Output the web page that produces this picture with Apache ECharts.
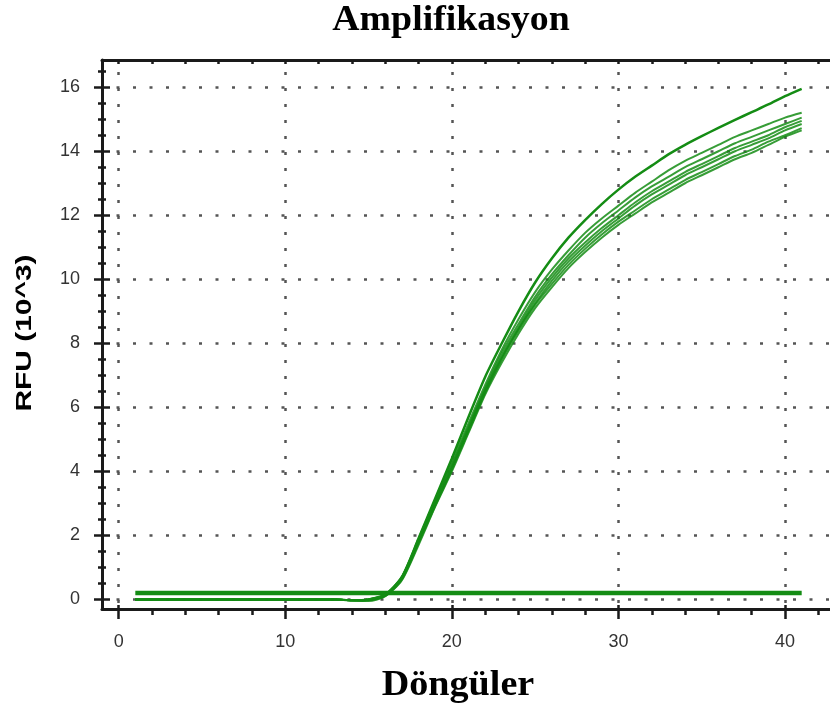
<!DOCTYPE html>
<html>
<head>
<meta charset="utf-8">
<script src="https://cdn.jsdelivr.net/npm/echarts@6/dist/echarts.min.js"></script>
<style>
  html, body { margin: 0; padding: 0; background: #fff; }
  #myChart { width: 830px; height: 712px; }
</style>
</head>
<body>
<div id="myChart"></div>
<script>
// cycles (x) and RFU values in 10^3 (y)
const cycles = [1, 2, 3, 4, 5, 6, 7, 8, 9, 10, 11, 12, 13, 14, 15, 16, 17, 18, 19, 20,
  21, 22, 23, 24, 25, 26, 27, 28, 29, 30, 31, 32, 33, 34, 35, 36, 37, 38, 39, 40, 41];

// negative samples, flat line
const negative = [0.2, 0.2, 0.2, 0.2, 0.2, 0.2, 0.2, 0.2, 0.2, 0.2, 0.2, 0.2, 0.2, 0.2, 0.2, 0.2, 0.2, 0.2, 0.2, 0.2,
  0.2, 0.2, 0.2, 0.2, 0.2, 0.2, 0.2, 0.2, 0.2, 0.2, 0.2, 0.2, 0.2, 0.2, 0.2, 0.2, 0.2, 0.2, 0.2, 0.2, 0.2];

// highest curve
const sampleTop = [0, 0, 0, 0, 0, 0, 0, 0, 0, 0, 0, 0, 0, -0.03,
  0.0, 0.15, 0.7, 1.9, 3.15, 4.4, 5.7, 6.95, 8.0, 9.0, 9.9, 10.65, 11.3, 11.85, 12.35, 12.8, 13.2,
  13.55, 13.9, 14.2, 14.47, 14.73, 14.98, 15.22, 15.46, 15.72, 15.95];

// bundle of curves
const sampleA = [0, 0, 0, 0, 0, 0, 0, 0, 0, 0, 0, 0, 0, -0.03,
  0.0, 0.15, 0.7, 1.9, 3.1, 4.3, 5.5, 6.7, 7.8, 8.75, 9.6, 10.3, 10.9, 11.45, 11.9, 12.3, 12.7,
  13.05, 13.4, 13.7, 13.95, 14.2, 14.45, 14.65, 14.85, 15.05, 15.2];
const sampleB = [0, 0, 0, 0, 0, 0, 0, 0, 0, 0, 0, 0, 0, -0.03,
  0.0, 0.15, 0.7, 1.85, 3.05, 4.2, 5.4, 6.6, 7.7, 8.6, 9.45, 10.15, 10.75, 11.3, 11.75, 12.15, 12.55,
  12.9, 13.2, 13.5, 13.75, 14.0, 14.25, 14.45, 14.65, 14.85, 15.05];
const sampleC = [0, 0, 0, 0, 0, 0, 0, 0, 0, 0, 0, 0, 0, -0.03,
  0.0, 0.12, 0.65, 1.8, 3.0, 4.15, 5.35, 6.55, 7.6, 8.5, 9.35, 10.05, 10.65, 11.15, 11.6, 12.0, 12.4,
  12.75, 13.05, 13.35, 13.6, 13.85, 14.1, 14.3, 14.5, 14.75, 14.95];
const sampleD = [0, 0, 0, 0, 0, 0, 0, 0, 0, 0, 0, 0, 0, -0.03,
  -0.02, 0.12, 0.65, 1.78, 2.95, 4.1, 5.3, 6.5, 7.55, 8.45, 9.25, 9.95, 10.55, 11.05, 11.5, 11.9, 12.3,
  12.65, 12.95, 13.25, 13.5, 13.75, 14.0, 14.2, 14.4, 14.65, 14.85];
const sampleE = [0, 0, 0, 0, 0, 0, 0, 0, 0, 0, 0, 0, 0, -0.03,
  -0.03, 0.1, 0.62, 1.75, 2.92, 4.05, 5.25, 6.45, 7.5, 8.4, 9.2, 9.85, 10.45, 10.95, 11.4, 11.8, 12.15,
  12.5, 12.8, 13.1, 13.35, 13.6, 13.85, 14.05, 14.3, 14.5, 14.72];
const sampleF = [0, 0, 0, 0, 0, 0, 0, 0, 0, 0, 0, 0, 0, -0.03,
  -0.05, 0.1, 0.6, 1.7, 2.9, 4.0, 5.2, 6.4, 7.4, 8.3, 9.1, 9.75, 10.35, 10.85, 11.3, 11.7, 12.05,
  12.4, 12.7, 13.0, 13.25, 13.5, 13.75, 13.95, 14.2, 14.45, 14.65];

// tick values
const xMajorTicks = [0, 10, 20, 30, 40];
const xMinorTicks = [2, 4, 6, 8, 12, 14, 16, 18, 22, 24, 26, 28, 32, 34, 36, 38, 42];
const yMajorTicks = [0, 2, 4, 6, 8, 10, 12, 14, 16];
const yMinorTicks = [0.5, 1, 1.5, 2.5, 3, 3.5, 4.5, 5, 5.5, 6.5, 7, 7.5, 8.5, 9, 9.5,
  10.5, 11, 11.5, 12.5, 13, 13.5, 14.5, 15, 15.5, 16.5];

const green = '#148c14';
const ink = '#1a1a1a';

function pairs(values) {
  return cycles.map(function (c, i) { return [c, values[i]]; });
}

// an extra axis used only to draw tick marks
function tickAxis(base, position, ticks, len, inside) {
  return Object.assign({}, base, {
    position: position,
    axisLine: { show: false, onZero: false },
    axisTick: { show: true, customValues: ticks, inside: inside, length: len, lineStyle: { color: ink, width: 2.5 } },
    axisLabel: { show: false },
    splitLine: { show: false }
  });
}

const xBase = { type: 'value', gridIndex: 0, min: -1, max: 43 };
const yBase = { type: 'value', gridIndex: 0, min: -0.3, max: 16.85 };

let myChart = echarts.init(document.getElementById('myChart'));

const curveStyle = { color: green, width: 2, opacity: 0.85 };
function curve(name, values, style) {
  return {
    name: name,
    type: 'line',
    data: pairs(values),
    showSymbol: false,
    smooth: 0.25,
    lineStyle: style || curveStyle,
    itemStyle: { color: green },
    silent: true,
    animation: false
  };
}

myChart.setOption({
  animation: false,
  grid: { left: 102, top: 60, width: 733, height: 549, containLabel: false, outerBoundsMode: 'none' },
  xAxis: [
    Object.assign({}, xBase, {
      position: 'bottom',
      axisLine: { show: true, onZero: false, lineStyle: { color: ink, width: 3 } },
      axisTick: { show: true, customValues: xMajorTicks, length: 10, lineStyle: { color: ink, width: 2.5 } },
      axisLabel: { customValues: xMajorTicks, margin: 24, fontSize: 18, color: '#333', fontFamily: 'Liberation Sans' },
      splitLine: { show: true, lineStyle: { color: '#555', width: 2.5, type: [3, 13], dashOffset: 4 } }
    }),
    tickAxis(xBase, 'bottom', xMinorTicks, 6, false),
    tickAxis(xBase, 'bottom', xMajorTicks, 4, true),
    Object.assign(tickAxis(xBase, 'top', xMinorTicks.concat(xMajorTicks), 4, true), {
      axisLine: { show: true, onZero: false, lineStyle: { color: ink, width: 3 } }
    })
  ],
  yAxis: [
    Object.assign({}, yBase, {
      position: 'left',
      axisLine: { show: true, onZero: false, lineStyle: { color: ink, width: 3 } },
      axisTick: { show: true, customValues: yMajorTicks, length: 8, lineStyle: { color: ink, width: 2.5 } },
      axisLabel: { customValues: yMajorTicks, margin: 22, fontSize: 18, color: '#333', fontFamily: 'Liberation Sans' },
      splitLine: { show: true, lineStyle: { color: '#555', width: 2.5, type: [3, 13.5], dashOffset: 2 } }
    }),
    tickAxis(yBase, 'left', yMinorTicks, 4, false),
    tickAxis(yBase, 'left', yMajorTicks, 8, true),
    tickAxis(yBase, 'left', yMinorTicks, 4, true)
  ],
  graphic: [
    {
      type: 'text', x: 451, y: 21, scaleX: 1.08,
      style: { text: 'Amplifikasyon', font: 'bold 35px "Liberation Serif"', fill: '#000',
        textAlign: 'center', textVerticalAlign: 'middle' }
    },
    {
      type: 'text', x: 458, y: 686, scaleX: 1.09,
      style: { text: 'Döngüler', font: 'bold 35px "Liberation Serif"', fill: '#000',
        textAlign: 'center', textVerticalAlign: 'middle' }
    },
    {
      type: 'text', x: 25, y: 333, rotation: Math.PI / 2, scaleX: 1.36,
      style: { text: 'RFU (10^3)', font: 'bold 22px "Liberation Sans"', fill: '#000',
        textAlign: 'center', textVerticalAlign: 'middle' }
    }
  ],
  series: [
    curve('negatif', negative, { color: green, width: 4.5 }),
    curve('F', sampleF),
    curve('E', sampleE),
    curve('D', sampleD),
    curve('C', sampleC),
    curve('B', sampleB),
    curve('A', sampleA),
    curve('üst', sampleTop, { color: green, width: 2.5 })
  ]
});

window.addEventListener('resize', function () {
  myChart.resize();
});
</script>
</body>
</html>
